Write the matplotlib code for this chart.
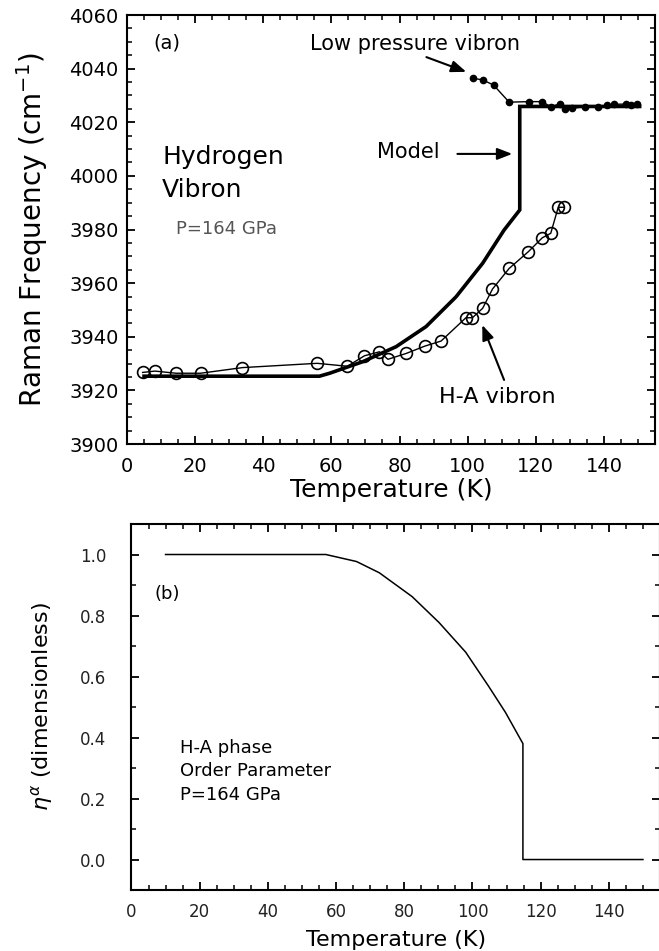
import numpy as np
import matplotlib
matplotlib.use("Agg")
import matplotlib.pyplot as plt
from matplotlib.ticker import MultipleLocator

# --- data ---
# (a) H-A vibron (open circles)
ha_T = [4.6, 8.2, 14.4, 21.6, 33.9, 55.8, 64.7, 69.7, 74.1, 76.6, 82.0, 87.4, 92.2,
        99.5, 101.4, 104.4, 107.3, 112.2, 117.8, 121.9, 124.4, 126.6, 128.3]
ha_F = [3926.7, 3927.2, 3926.4, 3926.4, 3928.5, 3930.1, 3929.0, 3932.9, 3934.4, 3931.6,
        3933.8, 3936.5, 3938.4, 3947.1, 3947.1, 3950.6, 3957.8, 3965.5, 3971.7, 3976.9,
        3978.6, 3988.3, 3988.3]

# (a) low pressure vibron (filled dots)
lp_T = [101.7, 104.4, 107.6, 112.2, 118.0, 121.9, 124.4, 127.0, 128.6, 130.5, 134.6,
        138.3, 140.8, 143.1, 146.4, 148.1, 149.6]
lp_F = [4036.4, 4035.8, 4033.9, 4027.5, 4027.7, 4027.7, 4025.8, 4026.8, 4024.8, 4025.2,
        4025.8, 4025.8, 4026.4, 4026.7, 4026.8, 4026.4, 4026.7]

# (a) model curve
model_T = [5.0, 56.5, 59.5, 69.2, 79.0, 87.8, 96.6, 104.4, 110.7, 115.3, 115.3, 150.5]
model_F = [3925.3, 3925.3, 3926.4, 3930.7, 3936.3, 3943.8, 3954.9, 3967.4, 3979.8,
           3987.3, 4025.9, 4025.9]

# (b) order parameter
eta_T = [10.0, 57.0, 66.0, 72.7, 82.3, 90.2, 98.0, 104.8, 109.7, 114.8, 114.8, 150.0]
eta_v = [1.0, 1.0, 0.977, 0.94, 0.862, 0.777, 0.68, 0.567, 0.482, 0.38, 0.0, 0.0]

plt.rcParams['font.family'] = ['DejaVu Sans']

fig = plt.figure(figsize=(6.59, 9.51), dpi=100)

def style_axes(ax, lw=1.5):
    for s in ax.spines.values():
        s.set_linewidth(lw)
    ax.tick_params(which='both', direction='in', top=True, right=True)
    ax.tick_params(which='major', length=6, width=1.3)
    ax.tick_params(which='minor', length=3.5, width=1.1)

# ---------------- panel (a) ----------------
ax1 = fig.add_axes([0.1927, 0.5331, 0.8012, 0.4511])
ax1.plot(model_T, model_F, color='black', lw=2.6, solid_joinstyle='miter')
ax1.plot(ha_T, ha_F, '-o', color='black', lw=1.0, ms=8.5, mfc='none', mec='black', mew=1.2)
ax1.plot(lp_T, lp_F, '-o', color='black', lw=1.0, ms=4.5, mfc='black', mec='black')

ax1.set_xlim(0, 155)
ax1.set_ylim(3900, 4060)
ax1.xaxis.set_major_locator(MultipleLocator(20))
ax1.xaxis.set_minor_locator(MultipleLocator(5))
ax1.yaxis.set_major_locator(MultipleLocator(20))
ax1.yaxis.set_minor_locator(MultipleLocator(5))
style_axes(ax1)
ax1.tick_params(axis='both', labelsize=14)
ax1.tick_params(axis='x', pad=9)
ax1.tick_params(axis='y', pad=6)
ax1.set_xlabel('Temperature (K)', fontsize=18, labelpad=2)
ax1.set_ylabel('Raman Frequency (cm$^{-1}$)', fontsize=20, labelpad=14)

ax1.text(7.6, 4049.6, '(a)', fontsize=14, ha='left', va='center')
ax1.text(53.6, 4049.3, 'Low pressure vibron', fontsize=15, ha='left', va='center')
ax1.text(10.3, 4007, 'Hydrogen', fontsize=18, ha='left', va='center')
ax1.text(10.3, 3994.7, 'Vibron', fontsize=18, ha='left', va='center')
ax1.text(14.4, 3980.2, 'P=164 GPa', fontsize=13, ha='left', va='center', color='#555555')
ax1.text(73.5, 4008.9, 'Model', fontsize=15, ha='left', va='center')
ax1.text(91.7, 3917.5, 'H-A vibron', fontsize=16, ha='left', va='center')

# arrows pointing at the curves
arrow = dict(arrowstyle='-|>,head_length=0.9,head_width=0.35', color='black', lw=1.5,
             shrinkA=0, shrinkB=0)
ax1.annotate('', xy=(99.6, 4038.8), xytext=(87.9, 4044.3), arrowprops=arrow)
ax1.annotate('', xy=(113.1, 4008.2), xytext=(97.0, 4008.2), arrowprops=arrow)
ax1.annotate('', xy=(104.3, 3944.4), xytext=(110.7, 3923.9), arrowprops=arrow)

# ---------------- panel (b) ----------------
ax2 = fig.add_axes([0.1995, 0.0641, 0.802, 0.3849])
ax2.plot(eta_T, eta_v, color='black', lw=1.1)
ax2.set_xlim(0, 155)
ax2.set_ylim(-0.1, 1.1)
ax2.xaxis.set_major_locator(MultipleLocator(20))
ax2.xaxis.set_minor_locator(MultipleLocator(5))
ax2.yaxis.set_major_locator(MultipleLocator(0.2))
ax2.yaxis.set_minor_locator(MultipleLocator(0.1))
ax2.yaxis.set_major_formatter(plt.FormatStrFormatter('%.1f'))
style_axes(ax2)
ax2.tick_params(axis='both', labelsize=12, labelcolor='#222222')
ax2.tick_params(axis='x', pad=9)
ax2.tick_params(axis='y', pad=18)
ax2.set_xlabel('Temperature (K)', fontsize=16, labelpad=7)
ax2.set_ylabel(r'$\eta^{\alpha}$ (dimensionless)', fontsize=16, labelpad=18)

ax2.text(6.9, 0.869, '(b)', fontsize=13, ha='left', va='center')
ax2.text(14.2, 0.367, 'H-A phase', fontsize=13, ha='left', va='center')
ax2.text(14.2, 0.289, 'Order Parameter', fontsize=13, ha='left', va='center')
ax2.text(14.2, 0.213, 'P=164 GPa', fontsize=13, ha='left', va='center')

fig.savefig('out.png', dpi=100)
